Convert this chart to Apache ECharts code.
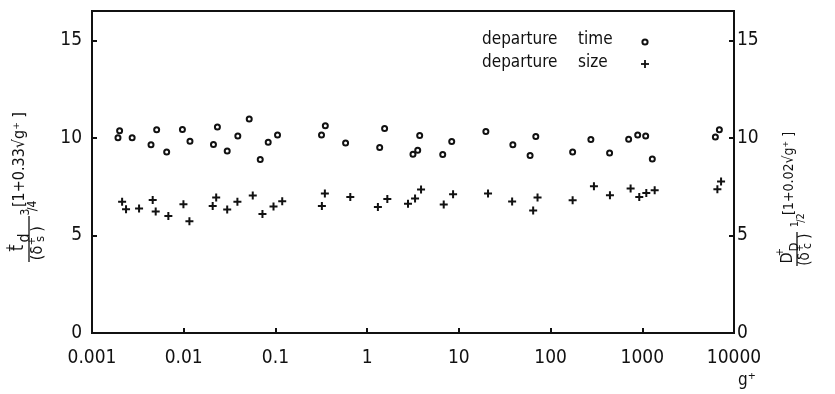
<!DOCTYPE html>
<html>
<head>
<meta charset="utf-8">
<script src="https://cdn.jsdelivr.net/npm/echarts@6/dist/echarts.min.js"></script>
<style>
  html, body { margin: 0; padding: 0; background: #fff; }
  #chart { width: 835px; height: 394px; }
</style>
</head>
<body>
<div id="chart"></div>
<script>
// Departure time and departure size against g+ (log axis)
const xTickLabels = ['0.001', '0.01', '0.1', '1', '10', '100', '1000', '10000'];
const yTickLabels = ['0', '5', '10', '15'];

const timeG = [0.00192, 0.0020, 0.00274, 0.0044, 0.00507, 0.00652, 0.00968, 0.0117, 0.0211, 0.0233,
  0.0298, 0.0389, 0.0518, 0.0683, 0.0834, 0.1054, 0.318, 0.35, 0.582, 1.37,
  1.55, 3.16, 3.56, 3.74, 6.67, 8.36, 19.7, 38.8, 59.8, 69,
  174, 275, 440, 710, 891, 1089, 1286, 6264, 6925];
const timeVal = [10.0, 10.36, 10.0, 9.64, 10.41, 9.28, 10.43, 9.83, 9.66, 10.56,
  9.33, 10.1, 10.97, 8.89, 9.78, 10.15, 10.15, 10.62, 9.73, 9.51,
  10.48, 9.16, 9.37, 10.12, 9.15, 9.81, 10.33, 9.64, 9.1, 10.07,
  9.28, 9.92, 9.22, 9.93, 10.15, 10.1, 8.91, 10.04, 10.41];

const sizeG = [0.00213, 0.00235, 0.00326, 0.00459, 0.00495, 0.0068, 0.00993, 0.01154, 0.0207, 0.0226,
  0.0298, 0.0385, 0.0566, 0.0722, 0.0953, 0.1186, 0.321, 0.346, 0.655, 1.31,
  1.66, 2.79, 3.33, 3.87, 6.84, 8.65, 20.8, 38.1, 64.6, 72.1,
  174, 297, 444, 746, 927, 1106, 1365, 6590, 7228];
const sizeVal = [6.72, 6.34, 6.38, 6.82, 6.23, 6.0, 6.6, 5.73, 6.51, 6.94,
  6.33, 6.72, 7.05, 6.1, 6.48, 6.75, 6.51, 7.15, 6.97, 6.46,
  6.87, 6.62, 6.89, 7.35, 6.58, 7.11, 7.15, 6.74, 6.28, 6.94,
  6.8, 7.52, 7.06, 7.4, 6.97, 7.18, 7.32, 7.37, 7.76];

const FONT = '"DejaVu Sans Condensed", "Liberation Sans Narrow", "DejaVu Sans", sans-serif';
const INK = '#111';
const PLUS = 'path://M3,0h2v3h3v2h-3v3h-2v-3h-3v-2h3z';

function pairs(xs, ys) { return xs.map((x, i) => [x, ys[i]]); }

function yAxisDef(pos, margin) {
  return {
    type: 'value', position: pos, min: 0, max: 16.5, interval: 5,
    axisLine: { show: true, lineStyle: { color: INK, width: 2 } },
    axisTick: { show: true, inside: true, length: 5, lineStyle: { color: INK, width: 2 } },
    axisLabel: {
      margin: margin, color: INK, fontFamily: FONT, fontSize: 19,
      formatter: v => {
        const i = Math.round(v / 5);
        return Math.abs(v - i * 5) < 1e-6 ? yTickLabels[i] : '';
      }
    },
    splitLine: { show: false }
  };
}

function txt(x, y, s, size, align) {
  return {
    type: 'text',
    style: { x: x, y: y, text: s, fill: INK, font: size + 'px ' + FONT,
      textAlign: align || 'center', textVerticalAlign: 'middle' }
  };
}
function ln(x1, y1, x2, y2, w) {
  return { type: 'line', shape: { x1, y1, x2, y2 }, style: { stroke: INK, lineWidth: w || 1.3 } };
}

// rotated left-hand axis title: t+d / (δ+s)^3/4 [1+0.33√g+]
const leftTitle = {
  type: 'group', x: 28, y: 190, rotation: Math.PI / 2,
  children: [
    txt(-58, -9, 't', 17),
    txt(-58, -17, '+', 12),
    txt(-48, -3, 'd', 16),
    ln(-72, 1, -26, 1),
    txt(-63, 10, '(δ', 16),
    txt(-51, 4, '+', 11),
    txt(-49, 13, 's', 13),
    txt(-39, 10, ')', 16),
    txt(-22, -2, '3', 12),
    txt(-16, 5, '/4', 12),
    txt(-17, -8, '[1+0.33√g⁺ ]', 16, 'left')
  ]
};

// rotated right-hand axis title: D+D / (δ+c)^1/2 [1+0.02√g+]
const rightTitle = {
  type: 'group', x: 796, y: 200, rotation: Math.PI / 2,
  children: [
    txt(-58, -8, 'D', 16),
    txt(-52, -16, '+', 11),
    txt(-47, -1, 'D', 13),
    ln(-66, 1, -32, 1),
    txt(-59, 9, '(δ', 15),
    txt(-48, 4, '+', 10),
    txt(-46, 12, 'c', 12),
    txt(-36, 9, ')', 15),
    txt(-24, -1, '1', 11),
    txt(-18, 5, '/2', 11),
    txt(-15, -7, '[1+0.02√g⁺ ]', 14, 'left')
  ]
};

const legendKey = [
  txt(482, 40, 'departure', 17, 'left'),
  txt(578, 40, 'time', 17, 'left'),
  { type: 'circle', shape: { cx: 645, cy: 42, r: 2.6 }, style: { fill: '#fff', stroke: INK, lineWidth: 2 } },
  txt(482, 63, 'departure', 17, 'left'),
  txt(578, 63, 'size', 17, 'left'),
  ln(641, 64, 649, 64, 1.8),
  ln(645, 60, 645, 68, 1.8),
  txt(738, 381, 'g⁺', 17, 'left')
];

const chart = echarts.init(document.getElementById('chart'), null, { renderer: 'canvas' });
chart.setOption({
  animation: false,
  backgroundColor: '#fff',
  grid: { left: 92, right: 101, top: 11, bottom: 61, show: true, borderColor: INK, borderWidth: 2, backgroundColor: 'transparent' },
  xAxis: {
    type: 'log', logBase: 10, min: 0.001, max: 10000,
    axisLine: { show: true, lineStyle: { color: INK, width: 2 } },
    axisTick: { show: true, inside: true, length: 5, lineStyle: { color: INK, width: 2 } },
    minorTick: { show: false },
    axisLabel: {
      margin: 16, color: INK, fontFamily: FONT, fontSize: 19,
      formatter: v => xTickLabels[Math.round(Math.log10(v)) + 3] || ''
    },
    splitLine: { show: false }
  },
  yAxis: [yAxisDef('left', 10), yAxisDef('right', 3)],
  series: [
    {
      name: 'departure time', type: 'scatter', yAxisIndex: 0,
      symbol: 'circle', symbolSize: 5,
      itemStyle: { color: '#fff', borderColor: INK, borderWidth: 2, opacity: 1 },
      data: pairs(timeG, timeVal)
    },
    {
      name: 'departure size', type: 'scatter', yAxisIndex: 1,
      symbol: PLUS, symbolSize: 8,
      itemStyle: { color: INK, opacity: 1 },
      data: pairs(sizeG, sizeVal)
    }
  ],
  graphic: [leftTitle, rightTitle].concat(legendKey)
});
</script>
</body>
</html>
